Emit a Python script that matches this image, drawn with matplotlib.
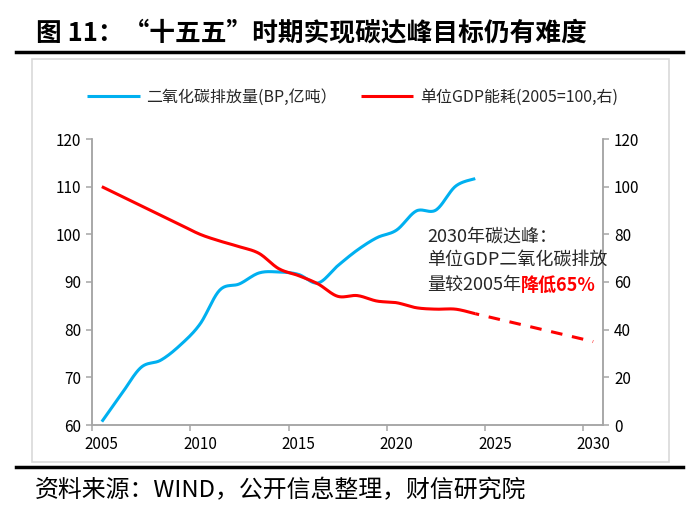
import numpy as np
import matplotlib
matplotlib.use("Agg")
import matplotlib.pyplot as plt
from matplotlib.lines import Line2D
from matplotlib.patches import Rectangle

plt.rcParams['font.family'] = ['Noto Sans CJK SC', 'DejaVu Sans']

OUT_FIG = "out.png"

# 二氧化碳排放量(BP, 亿吨) - 左轴
co2_years = list(range(2005, 2025))
co2_values = [60.7, 66.5, 72.1, 73.6, 76.8, 81.2, 88.3, 89.6, 91.9, 92.1,
              91.6, 89.8, 93.4, 96.7, 99.3, 100.9, 104.9, 105.1, 110.1, 111.7]

# 单位GDP能耗(2005=100) - 右轴
energy_years = list(range(2005, 2025))
energy_values = [100.0, 96.0, 92.0, 88.0, 84.0, 80.0, 77.2, 74.8, 72.0, 65.6,
                 62.7, 59.2, 54.0, 54.3, 52.0, 51.3, 49.2, 48.6, 48.6, 46.7]

# 目标路径(虚线)
target_years = [2024, 2030]
target_values = [46.7, 35.0]

x_tick_labels = [2005, 2010, 2015, 2020, 2025, 2030]
left_ticks = [60, 70, 80, 90, 100, 110, 120]
right_ticks = [0, 20, 40, 60, 80, 100, 120]

BLUE = "#00B0F0"
RED = "#FF0000"
AXIS_GRAY = "#A6A6A6"
TEXT = "#262626"


def smooth(xs, ys, n=20):
    # 类似 Excel 平滑线 (Catmull-Rom / Bezier)
    xs = np.asarray(xs, float)
    ys = np.asarray(ys, float)
    px = np.concatenate([[xs[0]], xs, [xs[-1]]])
    py = np.concatenate([[ys[0]], ys, [ys[-1]]])
    t = np.linspace(0, 1, n, endpoint=False)[:, None]
    out = []
    for i in range(1, len(px) - 2):
        p0 = np.array([px[i - 1], py[i - 1]])
        p1 = np.array([px[i], py[i]])
        p2 = np.array([px[i + 1], py[i + 1]])
        p3 = np.array([px[i + 2], py[i + 2]])
        c1 = p1 + (p2 - p0) / 6
        c2 = p2 - (p3 - p1) / 6
        b = ((1 - t) ** 3) * p1 + 3 * ((1 - t) ** 2) * t * c1 \
            + 3 * (1 - t) * t ** 2 * c2 + t ** 3 * p2
        out.append(b)
    out.append(np.array([[xs[-1], ys[-1]]]))
    pts = np.vstack(out)
    return pts[:, 0], pts[:, 1]


def main():
    fig = plt.figure(figsize=(7, 5.17), dpi=100)

    W, H = 700, 517
    ax = fig.add_axes([92 / W, 1 - 425 / H, (603 - 92) / W, (425 - 139) / H])
    ax2 = ax.twinx()

    sx, sy = smooth(co2_years, co2_values)
    l1, = ax.plot(sx, sy, color=BLUE, lw=2.2, solid_capstyle='butt')

    ex, ey = smooth(energy_years, energy_values)
    l2, = ax2.plot(ex, ey, color=RED, lw=2.2, solid_capstyle='butt')
    ax2.plot(target_years, target_values, color=RED, lw=2.2,
             linestyle=(2.5, (3.8, 3.2)), dash_capstyle='butt')

    ax.set_xlim(2004.5, 2030.5)
    ax.set_ylim(60, 120)
    ax2.set_ylim(0, 120)
    ax.set_yticks(left_ticks)
    ax2.set_yticks(right_ticks)
    ax.set_xticks(x_tick_labels)
    ax.set_xticklabels([str(v) for v in x_tick_labels])
    ax.set_xticks([v - 0.5 for v in x_tick_labels], minor=True)

    for a in (ax, ax2):
        a.spines['top'].set_visible(False)
        for s in ('left', 'right', 'bottom'):
            a.spines[s].set_color(AXIS_GRAY)
            a.spines[s].set_linewidth(1.1)
        a.patch.set_visible(False)

    ax.tick_params(axis='x', which='major', length=0, pad=8,
                   labelsize=11, labelcolor='black')
    ax.tick_params(axis='x', which='minor', length=4, width=1.1,
                   color=AXIS_GRAY)
    ax.tick_params(axis='y', length=4, width=1.1, color=AXIS_GRAY, pad=4,
                   labelsize=11, labelcolor='black')
    ax2.tick_params(axis='y', length=4, width=1.1, color=AXIS_GRAY, pad=4,
                    labelsize=11, labelcolor='black')

    # 注释
    ax2.text(2021.55, 79.2, "2030年碳达峰：", fontsize=13, color=TEXT,
             va='center', ha='left')
    ax2.text(2021.55, 68.9, "单位GDP二氧化碳排放", fontsize=13, color=TEXT,
             va='center', ha='left')
    t3 = ax2.text(2021.55, 58.6, "量较2005年", fontsize=13, color=TEXT,
                  va='center', ha='left')
    ax2.annotate("降低65%", xy=(1, 0.5), xycoords=t3, fontsize=13,
                 color=RED, fontweight='bold', va='center', ha='left')

    # 图例
    fig.legend([l1, l2], ["二氧化碳排放量(BP,亿吨）", "单位GDP能耗(2005=100,右)"],
               loc='center left', bbox_to_anchor=(79 / W, 1 - 97 / H),
               ncol=2, frameon=False, fontsize=11.5, handlelength=3.3,
               handletextpad=0.4, columnspacing=1.5, borderpad=0,
               labelcolor=TEXT)

    # 标题、框线、来源
    fig.text(36 / W, 1 - 33 / H, "图 11：“十五五”时期实现碳达峰目标仍有难度",
             fontsize=18.5, fontweight='bold', color='black', va='center')
    fig.add_artist(Line2D([16 / W, 683 / W], [1 - 52 / H] * 2,
                          color='black', lw=2.5))
    fig.add_artist(Rectangle((32 / W, 1 - 462 / H), (669 - 32) / W,
                             (462 - 59) / H, fill=False,
                             ec='#D9D9D9', lw=1.2))
    fig.add_artist(Line2D([16 / W, 683 / W], [1 - 467 / H] * 2,
                          color='black', lw=2.5))
    fig.text(35 / W, 1 - 491 / H, "资料来源：WIND，公开信息整理，财信研究院",
             fontsize=17.2, style='italic', color='black', va='center')

    fig.savefig(OUT_FIG, dpi=100)
    plt.close(fig)
    print("OK! Figura salva em:", OUT_FIG)


if __name__ == "__main__":
    main()
